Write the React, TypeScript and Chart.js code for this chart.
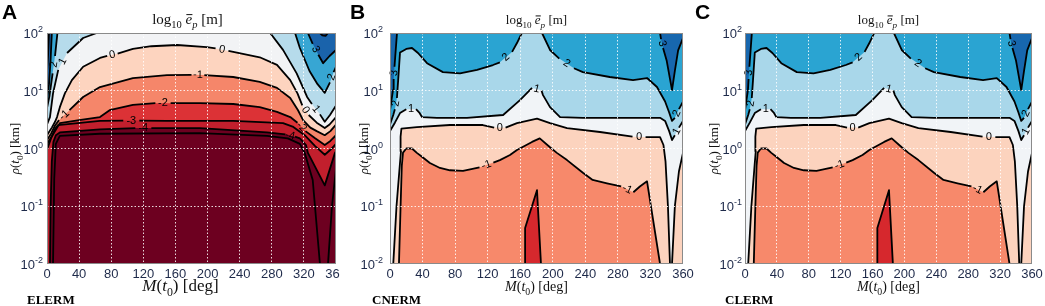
import React, { useEffect, useRef } from "react";
import { Chart, registerables } from "chart.js";
Chart.register(...registerables);

type Pt = [number, number];
type Item = Pt | string | null;

// ---------- axes ----------
const xTicks = [0, 40, 80, 120, 160, 200, 240, 280, 320, 360];
const yTicks = [0.01, 0.1, 1, 10, 100];
const yTickExp = ["-2", "-1", "0", "1", "2"];

// ---------- Panel A (ELERM): contour lines [M deg, rho km]; string = inline label, null = break ----------
const aLevels = [4, 3, 2, 1, 0, -1, -2, -3, -4, -5];
const aL4: Item[] = [[0, 20], [1.5, 45], [2.5, 100], null, [340, 100], [343, 91], [347, 89], [350, 100]];
const aL3: Item[] = [[0, 7], [2.5, 13], [4.5, 35], [6, 100], null, [325, 100], [331, 65], "3", [338, 42], [344, 30], [352, 40], [360, 51]];
const aL2: Item[] = [[0, 5], [3, 8], [7, 20], "2", [10, 40], [13, 100], null, [309, 100], [315, 55], [327, 22], [337, 13], [346, 9.2], [352.5, 14], "2", [357, 21], [360, 26]];
const aL1: Item[] = [[0, 2.6], [3.7, 3.5], [7.5, 9], [14, 23], "1", [25, 45], [45, 82], [62, 100], null, [278, 100], [294, 51], [311, 20], [324, 7.8], [330, 5.9], "1", [340, 3.9], [346, 2.9], [352.5, 3.8], [358.7, 5.2], [360, 5.5]];
const aL0: Item[] = [[0, 1.7], [6, 2.3], [10, 2.9], [12.5, 3.5], [16, 5.2], [22.4, 9.1], [31, 15.3], [45, 26], [66, 37], [75, 40], "0", [88, 44], [107, 53], [130, 59], [162, 62], [199, 57], [210, 54], "0", [226, 49], [232, 47], [265, 38], [286.5, 28], [303, 15.3], [312, 9], [318, 5.6], "0", [326, 3.8], [336, 2.8], [346, 2.26], [352, 2.6], [360, 3.5]];
const aLm1: Item[] = [[0, 1.4], [5, 1.8], [10, 2.5], [15, 3.1], "-1", [28, 4.6], [45, 7.8], [66, 11.6], [107, 16.6], [149.5, 18.7], [180, 18.9], "-1", [196, 18.7], [232, 17.3], [265, 14.2], [286.5, 11.2], [303, 7.5], [312.7, 4.6], [319, 3.1], [328, 2.3], [336, 2.0], [346, 1.7], [353, 2.0], [360, 2.6]];
const aLm2: Item[] = [[0, 1.2], [8, 1.8], [16, 2.75], [40, 3.1], [66, 3.5], [78, 4.6], [107, 5.7], [135, 6.1], "-2", [154, 6.1], [190.6, 6.1], [232, 5.9], [265, 5.2], [286.5, 4.3], [303, 3.5], [312, 2.8], "-2", [322, 2.0], [334, 1.5], [346, 1.15], [353, 1.35], [360, 1.7]];
const aLm3: Item[] = [[0, 0.95], [5, 1.5], [10, 2.2], [13.7, 2.55], [66, 3.0], [95, 3.05], "-3", [115, 3.05], [149.5, 3.0], [232, 3.0], [294, 2.75], [306, 2.4], [321, 1.7], [334, 1.1], [346, 0.78], [353, 0.95], [360, 1.2]];
const aLm4: Item[] = [[3.7, 0.01], [4.5, 0.1], [6, 0.6], [8, 1.3], [11, 1.7], [16, 1.9], [66, 2.15], [110, 2.26], "-4", [130, 2.26], [190.6, 2.26], [274, 1.9], [297, 1.75], "-4", [309, 1.6], [315, 1.5], [322.6, 1.15], [325, 0.84], [346, 0.23], [358.7, 0.84], [360, 0.9]];
const aLm5: Item[] = [[7.5, 0.01], [9, 0.3], [11, 1.2], [16, 1.65], [66, 1.8], [190, 1.85], [274, 1.65], [300, 1.5], [315, 1.2], [321, 0.84], [331, 0.285], [340, 0.01], null, [350, 0.01], [355, 0.1], [360, 0.45]];
const aLines = [aL4, aL3, aL2, aL1, aL0, aLm1, aLm2, aLm3, aLm4, aLm5];

// ---------- Panels B (CNERM) and C (CLERM) ----------
const bLevels = [3, 2, 1, 0, -1, -2];
const bL3: Item[] = [[0, 4.6], [3.7, 10.3], [4.5, 16], "3", [5.5, 26], [8.6, 100], null, [331.8, 100], [333, 78], "3", [335.5, 55], [340, 33], [344, 16], [346.5, 10.3], [350, 22], [354, 50], [360, 82]];
const bL2: Item[] = [[0, 2.6], [4, 3.8], [6, 4.8], "2", [8.5, 7.5], [10, 15], [12.3, 46], [20, 53], [27, 55], [34.4, 45], [45.5, 30], [65, 21], [86, 20], [107, 22.9], [126.5, 27.9], [135, 31], "2", [150, 47], [156, 67], [162, 100], null, [186.8, 100], [196.6, 50.8], [208, 36], "2", [226, 24.5], [237, 21], [270, 17.3], [298.6, 15.3], [315.8, 16.6], [328, 11.6], [338, 6.5], [343, 4.2], [346.5, 3.0], [350, 3.4], "2", [355, 4.8], [360, 6.5]];
const bL1: Item[] = [[0, 2.0], [6, 2.8], [12.3, 4.1], [20, 4.8], "1", [32, 4.8], [36, 4.2], [39.3, 3.5], [57.7, 3.4], [94.6, 3.4], [139, 3.8], [159.7, 6.9], [174.5, 11.2], "1", [186, 10.2], [188, 8.4], [196.6, 5.2], [209, 3.5], [237, 3.4], [298.6, 3.4], [331.8, 3.4], [338, 3.0], [343, 2.0], [346.5, 1.4], [350, 1.7], "1", [355, 2.3], [360, 3.0]];
const bL0: Item[] = [[4, 0.01], [8, 0.1], [12, 0.5], [13.5, 0.9], [13, 1.6], [14, 2.2], [33, 2.35], [73.7, 2.55], [114, 2.55], [128, 2.3], "0", [142, 2.3], [156, 2.75], [180.6, 3.3], [196.6, 2.75], [217.5, 2.26], [258, 1.93], [298, 1.6], "0", [314, 1.58], [331.8, 1.58], [336, 1.15], [338.5, 0.6], [341.5, 0.1], [344, 0.01], null, [346.5, 0.01], [350, 0.1], [355, 0.4], [360, 0.84]];
const bLm1: Item[] = [[11, 0.01], [13, 0.1], [14.5, 0.5], [16, 0.85], [20, 1.0], [27, 1.0], [33, 0.84], [39.3, 0.72], [49, 0.56], [61.4, 0.46], [73.7, 0.42], [89.7, 0.41], [110, 0.47], "-1", [127, 0.57], [135, 0.63], [147.4, 0.77], [156, 0.94], [174.5, 1.3], [184, 1.5], [196.6, 1.05], [205, 0.84], [217.5, 0.63], [237, 0.38], [249, 0.285], [266.6, 0.25], [284, 0.22], "-1", [299, 0.175], [307, 0.22], [315.8, 0.27], [331.8, 0.01]];
const bLm2: Item[] = [[165.9, 0.01], [166, 0.042], [180.6, 0.19], [185.5, 0.01]];
const bLines = [bL3, bL2, bL1, bL0, bLm1, bLm2];

// ---------- colours (band below each level) ----------
const aAbove = "#0b3b7c";
const aBands = ["#1a63ab", "#37a6d3", "#b6dbeb", "#f2f3f5", "#fdd4bf", "#f5866a", "#dc3236", "#c21f2d", "#6d0020", "#6d0020"];
const bAbove = "#1767ae";
const bBands = ["#2aa4d2", "#a9d7ea", "#f1f4f7", "#fcd3be", "#f7896b", "#d6282d"];

const fullRect: Pt[] = [[0, 100], [360, 100], [360, 0.01], [0, 0.01]];
const cornerPts: Pt[] = [[0, 100], [360, 100], [360, 0.01], [0, 0.01]];

function edgeT(p: Pt): number {
  const m = p[0];
  const l = Math.log10(p[1]);
  if (Math.abs(l - 2) < 1e-3) return m / 360;
  if (Math.abs(m - 360) < 1e-3) return 1 + (2 - l) / 4;
  if (Math.abs(l + 2) < 1e-3) return 2 + (360 - m) / 360;
  return 3 + (l + 2) / 4;
}

function splitPieces(ln: Item[]): Pt[][] {
  const out: Pt[][] = [[]];
  for (const it of ln) {
    if (it === null) out.push([]);
    else if (typeof it === "string") continue;
    else out[out.length - 1].push(it);
  }
  return out.filter((p) => p.length > 1);
}

function buildPolygons(pieces: Pt[][]): Pt[][] {
  const n = pieces.length;
  const ts = pieces.map((p) => [edgeT(p[0]), edgeT(p[p.length - 1])]);
  const used = new Array(n).fill(false);
  const out: Pt[][] = [];
  for (let s = 0; s < n; s++) {
    if (used[s]) continue;
    const poly: Pt[] = [];
    let cur = s;
    for (let g = 0; g < 30; g++) {
      used[cur] = true;
      poly.push(...pieces[cur]);
      const tEnd = ts[cur][1];
      let best = s;
      let bd = Infinity;
      for (let j = 0; j < n; j++) {
        if (used[j] && j !== s) continue;
        const d = (((ts[j][0] - tEnd) % 4) + 4) % 4;
        if (d < bd) { bd = d; best = j; }
      }
      for (let k = Math.floor(tEnd) + 1; k < tEnd + bd; k++) poly.push(cornerPts[k % 4]);
      if (best === s) break;
      cur = best;
    }
    out.push(poly);
  }
  return out;
}

function lineData(ln: Item[]) {
  const d: { x: number; y: number | null }[] = [];
  let lx = 0;
  for (const it of ln) {
    if (Array.isArray(it)) { d.push({ x: it[0], y: it[1] }); lx = it[0]; }
    else d.push({ x: lx, y: null });
  }
  return d;
}

type Run = { t: string; size: number; italic?: boolean; bold?: boolean; dy?: number; bar?: boolean; family?: string };
const fontOf = (r: Run) => `${r.italic ? "italic " : ""}${r.bold ? "bold " : ""}${r.size}px ${r.family || '"Liberation Serif", serif'}`;
function drawRuns(ctx: CanvasRenderingContext2D, runs: Run[], x: number, y: number, align: string) {
  let total = 0;
  for (const r of runs) { ctx.font = fontOf(r); total += ctx.measureText(r.t).width; }
  let cx = align === "center" ? x - total / 2 : align === "right" ? x - total : x;
  ctx.textAlign = "left";
  ctx.textBaseline = "alphabetic";
  for (const r of runs) {
    ctx.font = fontOf(r);
    const w = ctx.measureText(r.t).width;
    ctx.fillText(r.t, cx, y + (r.dy || 0));
    if (r.bar) ctx.fillRect(cx + 0.8, y - r.size * 0.66, w - 0.6, 1);
    cx += w;
  }
}

type Cfg = {
  left: number; width: number; yW: number; padR: number;
  lines: Item[][]; above: string; bands: string[];
  letter: string; letterX: number; name: string; nameX: number;
  titleSize: number; titleDx: number; xtSize: number; xtDx: number; ytX: number; ytSize: number; tickGap: number;
};

const sub = (s: number) => s * 0.7;

function Panel({ c }: { c: Cfg }) {
  const ref = useRef<HTMLCanvasElement>(null);
  useEffect(() => {
    const paint: { pts: Pt[]; color: string }[] = [{ pts: fullRect, color: c.above }];
    c.lines.forEach((ln, i) => {
      for (const p of buildPolygons(splitPieces(ln))) paint.push({ pts: p, color: c.bands[i] });
    });
    const N = paint.length + c.lines.length + 2;
    let idx = 0;
    const datasets: any[] = [];
    for (const p of paint) {
      datasets.push({
        data: p.pts.map(([x, y]) => ({ x, y })), fill: "shape", backgroundColor: p.color,
        borderColor: "rgba(0,0,0,0)", borderWidth: 0, pointRadius: 0, tension: 0, order: N - idx++,
      });
    }
    for (const ln of c.lines) {
      datasets.push({
        data: lineData(ln), fill: false, borderColor: "#000", borderWidth: 1.8, pointRadius: 0,
        tension: 0, spanGaps: false, borderJoinStyle: "round", order: N - idx++,
      });
    }
    const textPlugin = {
      id: "panelText",
      afterDraw(chart: any) {
        const ctx: CanvasRenderingContext2D = chart.ctx;
        const { left, top, right, bottom } = chart.chartArea;
        const xs = chart.scales.x, ys = chart.scales.y;
        ctx.save();
        // contour labels
        ctx.fillStyle = "#000";
        ctx.font = '11px "Liberation Sans", Arial, sans-serif';
        ctx.textAlign = "center";
        ctx.textBaseline = "middle";
        for (const ln of c.lines) {
          for (let i = 1; i < ln.length - 1; i++) {
            const it = ln[i];
            if (typeof it !== "string") continue;
            const a = ln[i - 1] as Pt, b = ln[i + 1] as Pt;
            const ax = xs.getPixelForValue(a[0]), ay = ys.getPixelForValue(a[1]);
            const bx = xs.getPixelForValue(b[0]), by = ys.getPixelForValue(b[1]);
            let ang = Math.atan2(by - ay, bx - ax);
            if (ang > Math.PI / 2) ang -= Math.PI;
            if (ang < -Math.PI / 2) ang += Math.PI;
            ctx.save();
            ctx.translate((ax + bx) / 2, (ay + by) / 2);
            ctx.rotate(ang);
            ctx.fillText(it, 0, 0);
            ctx.restore();
          }
        }
        // frame
        ctx.strokeStyle = "#8a8a8a";
        ctx.lineWidth = 1;
        ctx.strokeRect(left + 0.5, top + 0.5, right - left - 1, bottom - top - 1);
        // y tick labels
        ctx.fillStyle = "#1e2a4a";
        yTicks.forEach((v, i) => {
          const y = ys.getPixelForValue(v);
          const base = '13px "Liberation Sans", Arial, sans-serif';
          const expF = '9px "Liberation Sans", Arial, sans-serif';
          ctx.font = expF;
          const w2 = ctx.measureText(yTickExp[i]).width;
          ctx.font = base;
          const w1 = ctx.measureText("10").width;
          const r = left - c.tickGap;
          ctx.textAlign = "left";
          ctx.textBaseline = "alphabetic";
          ctx.fillText("10", r - w2 - w1, y + 5);
          ctx.font = expF;
          ctx.fillText(yTickExp[i], r - w2, y - 1);
        });
        // titles
        ctx.fillStyle = "#111";
        const cx = (left + right) / 2;
        const s = c.titleSize;
        drawRuns(ctx, [
          { t: "log", size: s }, { t: "10", size: sub(s), dy: s * 0.28 }, { t: " ", size: s },
          { t: "e", size: s, italic: true, bar: true }, { t: "p", size: sub(s), italic: true, dy: s * 0.28 }, { t: " [m]", size: s },
        ], cx + c.titleDx, 24, "center");
        const xt = c.xtSize;
        drawRuns(ctx, [
          { t: "M", size: xt, italic: true }, { t: "(", size: xt }, { t: "t", size: xt, italic: true },
          { t: "0", size: sub(xt), dy: xt * 0.28 }, { t: ")", size: xt }, { t: " [deg]", size: xt },
        ], cx + c.xtDx, 291, "center");
        ctx.save();
        ctx.translate(c.ytX, (top + bottom) / 2);
        ctx.rotate(-Math.PI / 2);
        const yt = c.ytSize;
        drawRuns(ctx, [
          { t: "\u03c1", size: yt, italic: true }, { t: "(", size: yt }, { t: "t", size: yt, italic: true },
          { t: "0", size: sub(yt), dy: yt * 0.28 }, { t: ")", size: yt }, { t: " [km]", size: yt },
        ], 0, 0, "center");
        ctx.restore();
        // panel letter and name
        ctx.fillStyle = "#000";
        ctx.font = 'bold 21px "Liberation Sans", Arial, sans-serif';
        ctx.textAlign = "left";
        ctx.fillText(c.letter, c.letterX, 19);
        ctx.font = 'bold 13px "Liberation Serif", serif';
        ctx.fillText(c.name, c.nameX, 304);
        ctx.restore();
      },
    };
    const gridCfg = { color: "rgba(255,255,255,0.85)", lineWidth: 1, drawTicks: false, z: 1 };
    const chart = new Chart(ref.current as HTMLCanvasElement, {
      type: "line",
      data: { datasets },
      options: {
        responsive: false, animation: false, devicePixelRatio: 1, events: [],
        layout: { padding: { top: 33, right: c.padR, left: 0, bottom: 0 }, autoPadding: false },
        plugins: { legend: { display: false }, tooltip: { enabled: false } },
        scales: {
          x: {
            type: "linear", min: 0, max: 360, position: "bottom",
            afterBuildTicks: (sc: any) => { sc.ticks = xTicks.map((v) => ({ value: v })); },
            afterFit: (sc: any) => { sc.height = 42; sc.paddingLeft = 0; sc.paddingRight = 0; },
            ticks: { autoSkip: false, maxRotation: 0, padding: 3, color: "#1e2a4a", font: { family: '"Liberation Sans", Arial, sans-serif', size: 13 }, callback: (v: any) => String(v) },
            grid: gridCfg, border: { display: false, dash: [1.5, 2] },
          },
          y: {
            type: "logarithmic", min: 0.01, max: 100, position: "left",
            afterBuildTicks: (sc: any) => { sc.ticks = yTicks.map((v) => ({ value: v })); },
            afterFit: (sc: any) => { sc.width = c.yW; },
            ticks: { display: false },
            grid: gridCfg, border: { display: false, dash: [1.5, 2] },
          },
        },
      } as any,
      plugins: [textPlugin],
    });
    return () => chart.destroy();
  }, []);
  return (
    <canvas ref={ref} width={c.width} height={306}
      style={{ position: "absolute", left: c.left, top: 0, width: c.width, height: 306 }} />
  );
}

const panels: Cfg[] = [
  { left: 0, width: 340, yW: 47, padR: 4, lines: aLines, above: aAbove, bands: aBands, letter: "A", letterX: 2, name: "ELERM", nameX: 27,
    titleSize: 15, titleDx: -4, xtSize: 17, xtDx: -11, ytX: 19, ytSize: 13, tickGap: 4 },
  { left: 340, width: 362, yW: 50, padR: 19, lines: bLines, above: bAbove, bands: bBands, letter: "B", letterX: 10, name: "CNERM", nameX: 32,
    titleSize: 13, titleDx: 0, xtSize: 14, xtDx: 0, ytX: 28, ytSize: 13, tickGap: 7 },
  { left: 690, width: 355, yW: 55, padR: 13, lines: bLines, above: bAbove, bands: bBands, letter: "C", letterX: 5, name: "CLERM", nameX: 35,
    titleSize: 13, titleDx: 0, xtSize: 14, xtDx: 0, ytX: 28, ytSize: 13, tickGap: 3 },
];

export default function App() {
  return (
    <div style={{ position: "absolute", left: 0, top: 0, width: 1045, height: 306, background: "#fff", overflow: "hidden" }}>
      {panels.map((p) => <Panel key={p.letter} c={p} />)}
    </div>
  );
}
